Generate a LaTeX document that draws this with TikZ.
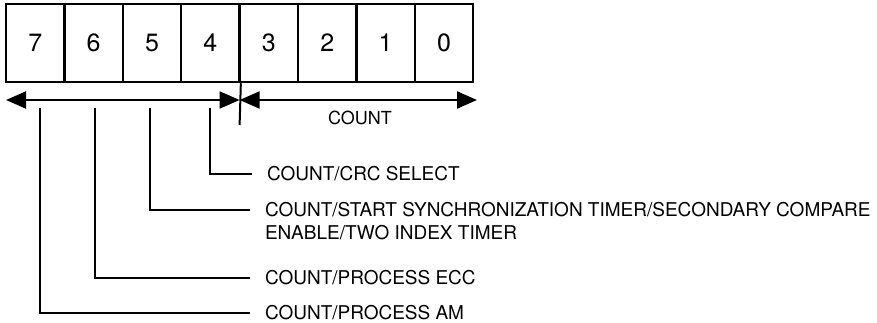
\documentclass[tikz,border=0pt]{standalone}
\usepackage{fontspec}
\setmainfont{TeX Gyre Heros}
\usepackage{tikz}
\usetikzlibrary{arrows.meta,positioning}

\tikzset{
  bitbox/.style={rectangle,draw,line width=2.5pt,minimum width=58.4pt,minimum height=78pt,
    inner sep=0pt,font=\fontsize{25}{30}\selectfont},
  lbl/.style={anchor=west,inner xsep=14pt,inner ysep=0pt,font=\fontsize{19}{22}\selectfont},
  span/.style={line width=2pt,{Triangle[length=20pt,width=17pt]}-{Triangle[length=20pt,width=17pt]}}
}

\begin{document}
\begin{tikzpicture}[x=1pt,y=1pt,line width=2pt]
\useasboundingbox (0,0) rectangle (877,-323);

% register bits
\node (M7)[bitbox] at (35.2,-43) {7};
\node (M6)[bitbox] at (93.6,-43) {6};
\node (M5)[bitbox] at (152.0,-43) {5};
\node (M4)[bitbox] at (210.4,-43) {4};
\node (M3)[bitbox] at (268.8,-43) {3};
\node (M2)[bitbox] at (327.2,-43) {2};
\node (M1)[bitbox] at (385.6,-43) {1};
\node (M0)[bitbox] at (444.0,-43) {0};

% span arrows
\coordinate (AL) at (6,-100);
\coordinate (AS) at (239.6,-100);
\coordinate (AR) at (477,-100);
\coordinate (D) at (239.6,-125);
\draw (M4.south east) -- (D);
\draw[span] (AL) -- (AS);
\draw[span] (AS) -- (AR);
\node (C)[font=\fontsize{18}{22}\selectfont,inner sep=0pt] at (360,-118) {COUNT};

% leaders
\coordinate (K7) at (40,-108);
\coordinate (K6) at (95,-108);
\coordinate (K5) at (150,-108);
\coordinate (K4) at (210,-108);

\node (T4)[lbl] at (252,-174) {COUNT/CRC SELECT};
\node (T5)[lbl] at (250,-210) {COUNT/START SYNCHRONIZATION TIMER/SECONDARY COMPARE};
\node (T5b)[lbl] at ([yshift=-23pt]T5.west) {ENABLE/TWO INDEX TIMER};
\node (T6)[lbl] at (250,-278) {COUNT/PROCESS ECC};
\node (T7)[lbl] at (250,-313) {COUNT/PROCESS AM};

\draw (K4) |- (T4.west);
\draw (K5) |- (T5.west);
\draw (K6) |- (T6.west);
\draw (K7) |- (T7.west);
\end{tikzpicture}
\end{document}
